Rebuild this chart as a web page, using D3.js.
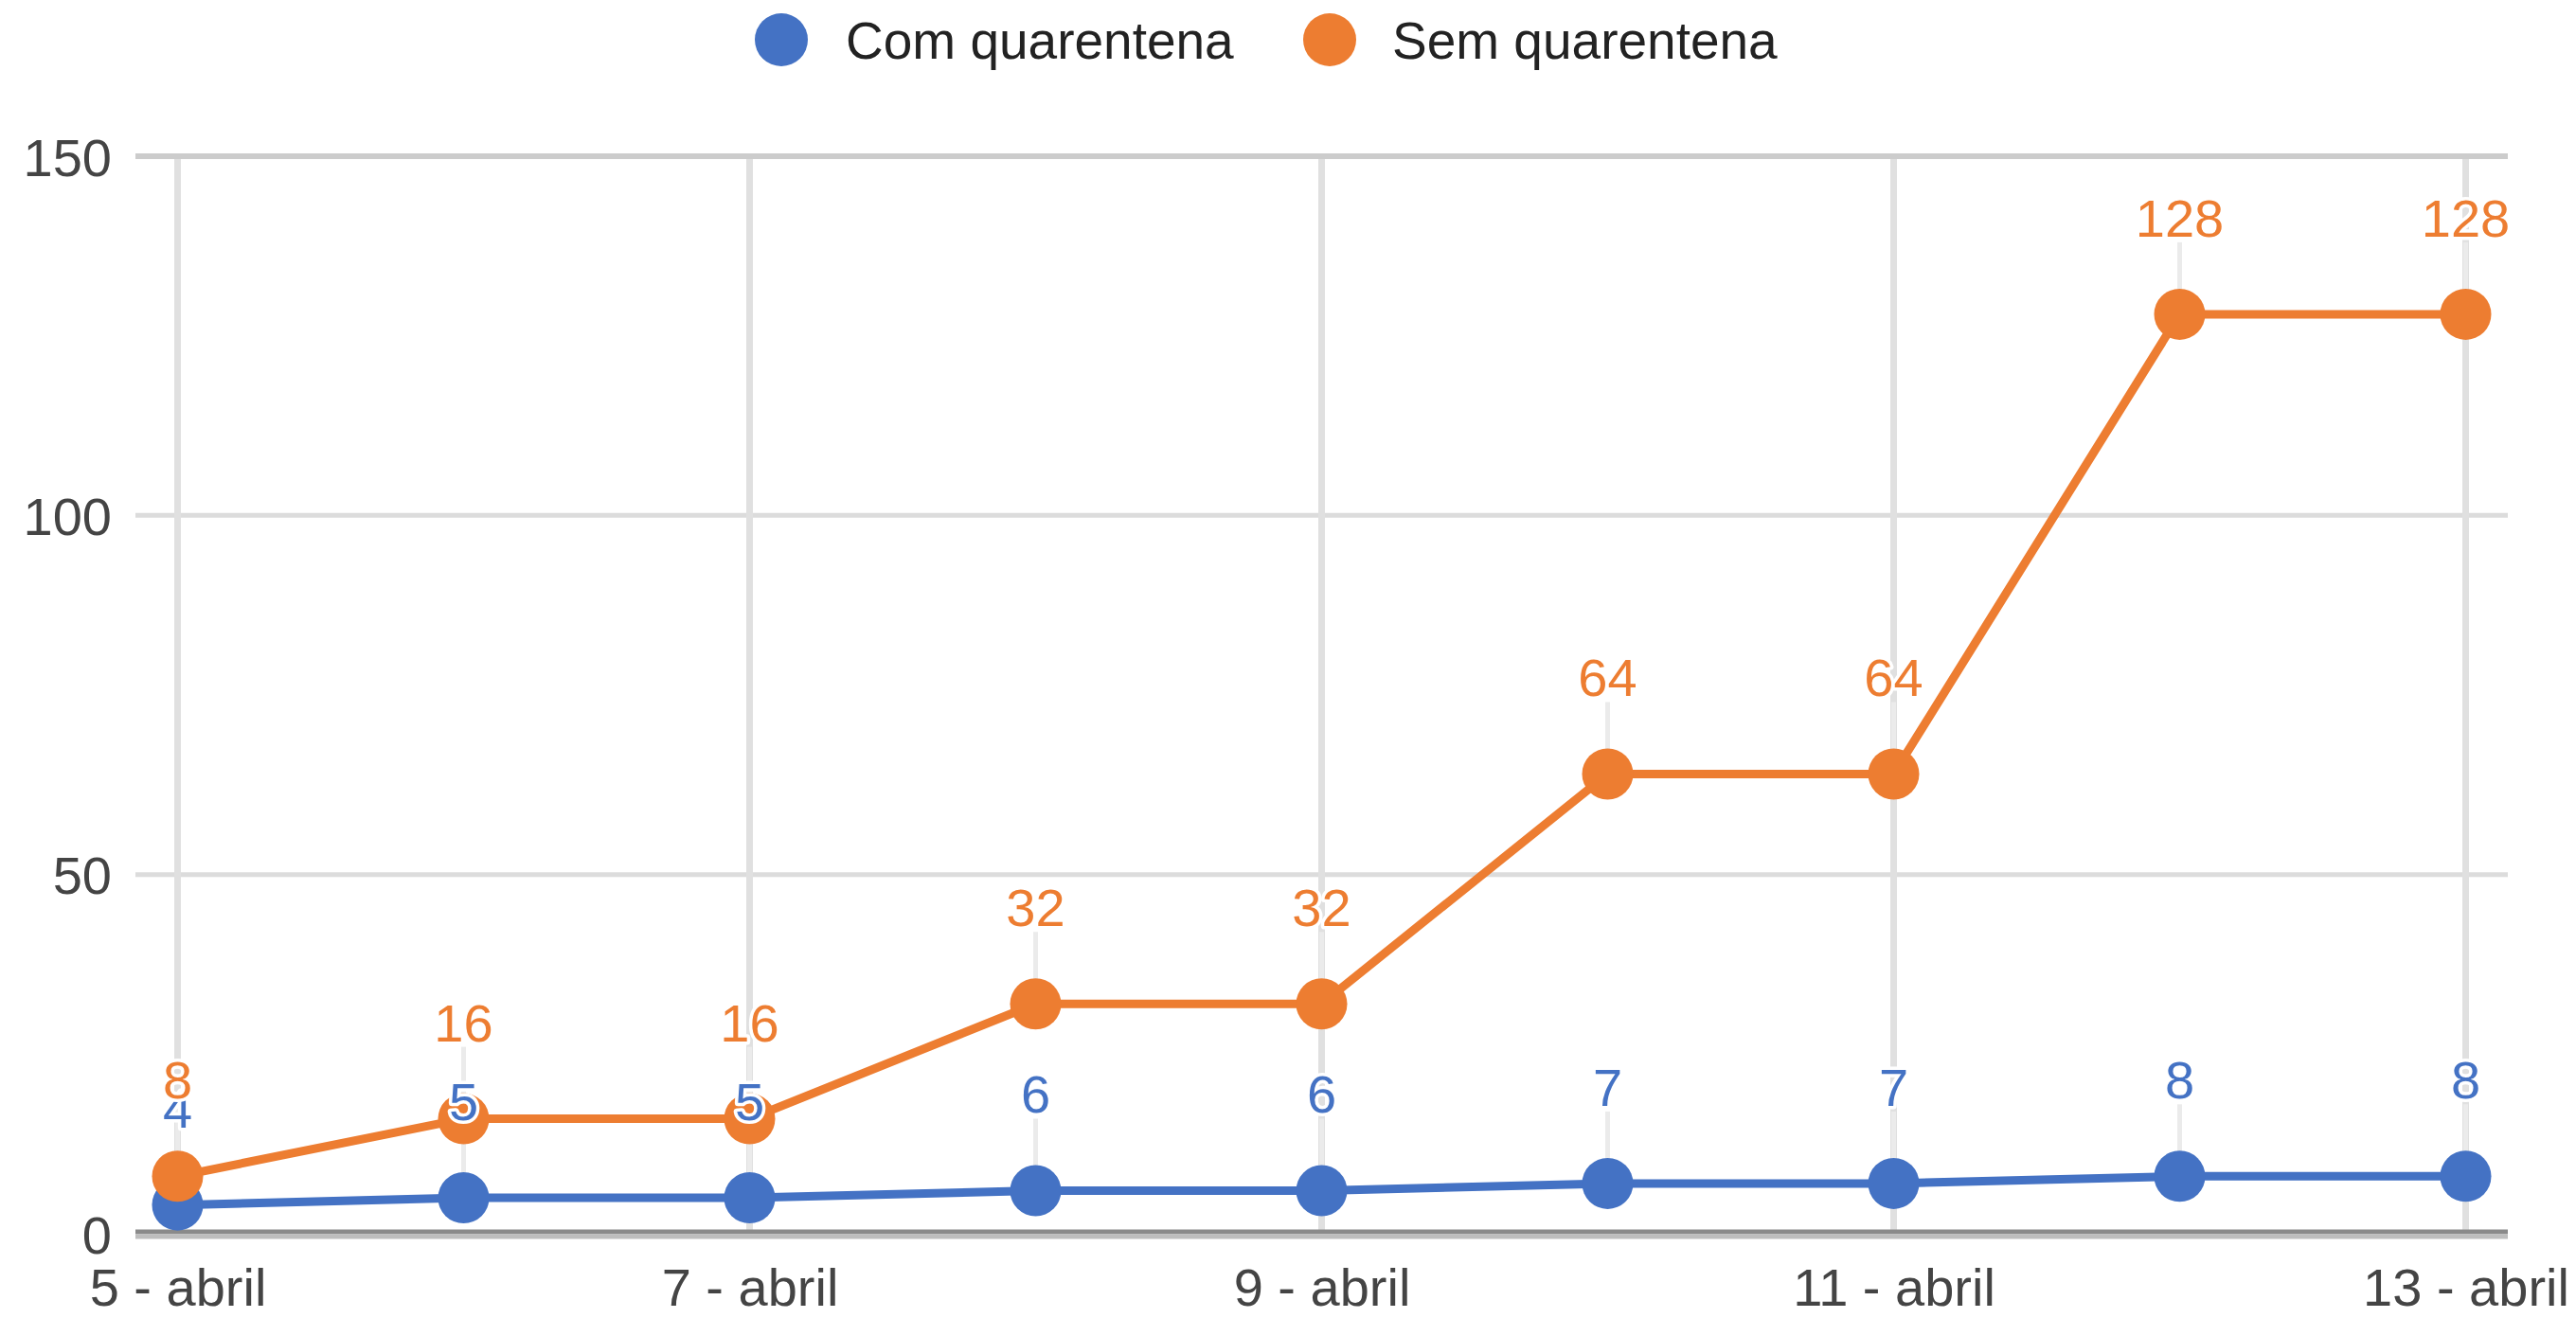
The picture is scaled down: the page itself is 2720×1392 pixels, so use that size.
<!DOCTYPE html>
<html>
<head>
<meta charset="utf-8">
<script src="https://cdn.jsdelivr.net/npm/d3@7/dist/d3.min.js"></script>
<style>
  html, body { margin: 0; padding: 0; background: #ffffff; }
  svg { display: block; font-family: "Liberation Sans", Arial, sans-serif; }
</style>
</head>
<body>
<svg id="chart" width="2720" height="1392"></svg>
<script>
// Days of April
const days = ["5 - abril", "6 - abril", "7 - abril", "8 - abril", "9 - abril",
              "10 - abril", "11 - abril", "12 - abril", "13 - abril"];
// Labelled x ticks (every other day)
const xTickLabels = ["5 - abril", "7 - abril", "9 - abril", "11 - abril", "13 - abril"];
// Series
const comQuarentena = [4, 5, 5, 6, 6, 7, 7, 8, 8];
const semQuarentena = [8, 16, 16, 32, 32, 64, 64, 128, 128];
const seriesNames = ["Com quarentena", "Sem quarentena"];
const seriesColors = ["#4472C4", "#ED7D31"];
const yTicks = [0, 50, 100, 150];

const svg = d3.select("#chart");

const x = d3.scalePoint().domain(days).range([187.5, 2603.5]);
const y = d3.scaleLinear().domain([0, 150]).range([1303, 165]);

const gridLeft = 143, gridRight = 2648;

// Horizontal grid lines (top one slightly darker)
svg.append("g").selectAll("line")
  .data(yTicks.filter(d => d > 0))
  .join("line")
  .attr("x1", gridLeft).attr("x2", gridRight)
  .attr("y1", d => y(d)).attr("y2", d => y(d))
  .attr("stroke", d => d === 150 ? "#cccccc" : "#dcdcdc")
  .attr("stroke-width", d => d === 150 ? 6 : 5);

// Vertical grid lines at labelled days
svg.append("g").selectAll("line")
  .data(xTickLabels)
  .join("line")
  .attr("x1", d => x(d)).attr("x2", d => x(d))
  .attr("y1", y(150) + 3).attr("y2", y(0))
  .attr("stroke", "#e0e0e0")
  .attr("stroke-width", 7);

// Y axis labels
const yAxis = d3.axisLeft(y).tickValues(yTicks).tickSize(0).tickPadding(0);
const yAxisG = svg.append("g").attr("transform", "translate(118,0)").call(yAxis);
yAxisG.select(".domain").remove();
yAxisG.selectAll("text")
  .attr("font-size", 56)
  .attr("font-family", "Liberation Sans, Arial, sans-serif")
  .attr("fill", "#444444")
  .attr("dy", "0.36em");

// X axis labels
const xAxis = d3.axisBottom(x).tickValues(xTickLabels).tickSize(0).tickPadding(0);
const xAxisG = svg.append("g").attr("transform", "translate(0,1339)").call(xAxis);
xAxisG.select(".domain").remove();
xAxisG.selectAll("text")
  .attr("font-size", 56)
  .attr("font-family", "Liberation Sans, Arial, sans-serif")
  .attr("fill", "#444444")
  .attr("dy", "0.71em");

const series = [comQuarentena, semQuarentena];
const labelOffset = 82;

// Annotation stems from labels down to points
series.forEach((vals, si) => {
  svg.append("g").selectAll("line")
    .data(vals)
    .join("line")
    .attr("x1", (d, i) => x(days[i])).attr("x2", (d, i) => x(days[i]))
    .attr("y1", d => y(d) - labelOffset + 6)
    .attr("y2", d => y(d))
    .attr("stroke", "#ebebeb")
    .attr("stroke-width", 5);
});

// Baseline
svg.append("line")
  .attr("x1", gridLeft).attr("x2", gridRight)
  .attr("y1", y(0) - 2).attr("y2", y(0) - 2)
  .attr("stroke", "#8a8a8a").attr("stroke-width", 5);
svg.append("line")
  .attr("x1", gridLeft).attr("x2", gridRight)
  .attr("y1", y(0) + 3).attr("y2", y(0) + 3)
  .attr("stroke", "#bdbdbd").attr("stroke-width", 5);

// Lines
const line = d3.line().x((d, i) => x(days[i])).y(d => y(d));
series.forEach((vals, si) => {
  svg.append("path")
    .datum(vals)
    .attr("d", line)
    .attr("fill", "none")
    .attr("stroke", seriesColors[si])
    .attr("stroke-width", 9)
    .attr("stroke-linejoin", "round");
});

// Point markers
series.forEach((vals, si) => {
  svg.append("g").selectAll("circle")
    .data(vals)
    .join("circle")
    .attr("cx", (d, i) => x(days[i]))
    .attr("cy", d => y(d))
    .attr("r", 27)
    .attr("fill", seriesColors[si]);
});

// Value labels with white halo
series.forEach((vals, si) => {
  svg.append("g").selectAll("text")
    .data(vals)
    .join("text")
    .attr("x", (d, i) => x(days[i]))
    .attr("y", d => y(d) - labelOffset)
    .attr("text-anchor", "middle")
    .attr("font-size", 56)
    .attr("fill", seriesColors[si])
    .attr("stroke", "#ffffff")
    .attr("stroke-width", 7)
    .attr("stroke-linejoin", "round")
    .attr("paint-order", "stroke")
    .text(d => d);
});

// Legend
const legendItems = [
  { name: seriesNames[0], color: seriesColors[0], cx: 825, tx: 893 },
  { name: seriesNames[1], color: seriesColors[1], cx: 1404, tx: 1470 }
];
const legend = svg.append("g");
legend.selectAll("circle")
  .data(legendItems)
  .join("circle")
  .attr("cx", d => d.cx).attr("cy", 42).attr("r", 28)
  .attr("fill", d => d.color);
legend.selectAll("text")
  .data(legendItems)
  .join("text")
  .attr("x", d => d.tx).attr("y", 62)
  .attr("font-size", 55)
  .attr("fill", "#222222")
  .text(d => d.name);
</script>
</body>
</html>
